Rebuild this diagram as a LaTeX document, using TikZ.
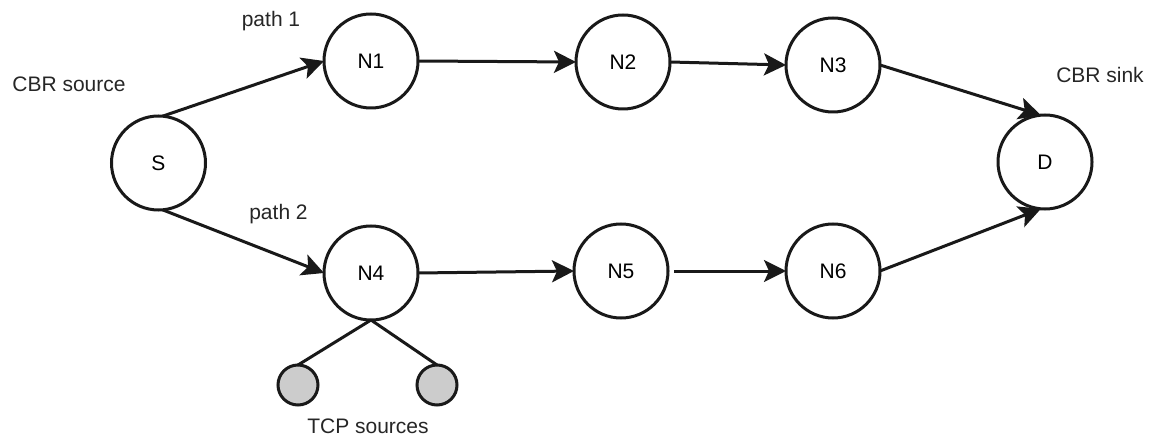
\documentclass[tikz,border=0pt]{standalone}
\usepackage{fontspec}
\setmainfont{Liberation Sans}
\usetikzlibrary{arrows.meta}
\begin{document}
\begin{tikzpicture}[x=1pt,y=-1pt,
  font=\fontsize{21}{25}\selectfont,
  netnode/.style={circle,draw=black!90,line width=3pt,minimum size=94pt,inner sep=0pt,outer sep=0pt,fill=white},
  tcpnode/.style={circle,draw=black!90,line width=3pt,minimum size=40pt,inner sep=0pt,outer sep=0pt,fill=black!20},
  link/.style={line width=3pt,draw=black!90,-{Stealth[length=22pt,width=22pt,inset=5pt]}},
  plain/.style={line width=3pt,draw=black!90},
  lbl/.style={anchor=base,inner sep=0pt,text=black!85}]
\useasboundingbox (0,0) rectangle (1150,438);
\node[netnode] (S) at (158.5,163) {S};
\node[netnode] (N1) at (371,61) {N1};
\node[netnode] (N2) at (623,62) {N2};
\node[netnode] (N3) at (833,65) {N3};
\node[netnode] (D) at (1045,162) {D};
\node[netnode] (N4) at (371,273) {N4};
\node[netnode] (N5) at (621,271) {N5};
\node[netnode] (N6) at (833,271) {N6};
\node[tcpnode] (T1) at (298,385) {};
\node[tcpnode] (T2) at (437,385) {};
\node[lbl] (l1) at (69,92) {CBR source};
\node[lbl] (l2) at (271,27) {path 1};
\node[lbl] (l3) at (278.5,220) {path 2};
\node[lbl] (l4) at (1100,83) {CBR sink};
\node[lbl] (l5) at (368,433) {TCP sources};
\draw[link] (S.85) -- (N1.west);
\draw[link] (S.275) -- (N4.west);
\draw[link] (N1.east) -- (N2.west);
\draw[link] (N2.east) -- (N3.west);
\draw[link] (N3.east) -- (D.95);
\draw[link] (N4.east) -- (N5.west);
\draw[link,shorten <=6pt] (N5.east) -- (N6.west);
\draw[link] (N6.east) -- (D.265);
\draw[plain] (N4.south) -- (T1.north);
\draw[plain] (N4.south) -- (T2.north);
\end{tikzpicture}
\end{document}
